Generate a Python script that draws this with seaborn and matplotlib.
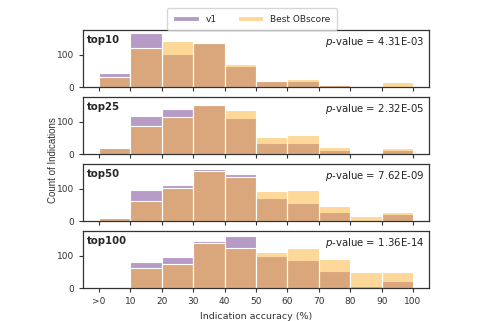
import numpy as np
import pandas as pd
import matplotlib
matplotlib.use('Agg')
from matplotlib import pyplot as plt
import seaborn as sns

# bins of indication accuracy (%)
bin_edges = [0, 10, 20, 30, 40, 50, 60, 70, 80, 90, 100]
bin_mids = [5, 15, 25, 35, 45, 55, 65, 75, 85, 95]
tick_labels = ['>0', '10', '20', '30', '40', '50', '60', '70', '80', '90', '100']

panels = ['top10', 'top25', 'top50', 'top100']
pvals = ['4.31E-03', '2.32E-05', '7.62E-09', '1.36E-14']

# counts
v1_top10 = [43, 165, 102, 134, 66, 20, 17, 9, 0, 0]
ob_top10 = [31, 121, 141, 134, 72, 20, 25, 7, 0, 14]
v1_top25 = [21, 116, 140, 152, 112, 35, 33, 12, 0, 12]
ob_top25 = [18, 86, 114, 152, 135, 54, 60, 23, 0, 20]
v1_top50 = [10, 97, 112, 161, 145, 70, 57, 27, 1, 21]
ob_top50 = [10, 61, 103, 154, 137, 93, 95, 48, 15, 29]
v1_top100 = [4, 80, 95, 145, 161, 98, 88, 52, 8, 23]
ob_top100 = [4, 61, 74, 140, 125, 112, 123, 89, 49, 49]

v1_all = [v1_top10, v1_top25, v1_top50, v1_top100]
ob_all = [ob_top10, ob_top25, ob_top50, ob_top100]

purple = '#713991'
orange = '#fdb335'

sns.set_style('white')
plt.rcParams['font.family'] = ['DejaVu Sans']

fig, axes = plt.subplots(4, 1, figsize=(4.78, 3.21), dpi=100, sharex=True, sharey=True)
fig.subplots_adjust(left=0.174, right=0.897, top=0.906, bottom=0.102, hspace=0.18)

for i, ax in enumerate(axes):
    df = pd.DataFrame({'acc': bin_mids, 'v1': v1_all[i], 'ob': ob_all[i]})
    sns.histplot(data=df, x='acc', weights='v1', bins=bin_edges, color=purple,
                 alpha=0.5, edgecolor='white', linewidth=0.8, ax=ax, label='v1')
    sns.histplot(data=df, x='acc', weights='ob', bins=bin_edges, color=orange,
                 alpha=0.5, edgecolor='white', linewidth=0.8, ax=ax, label='Best OBscore')
    ax.set_xlim(-5, 105)
    ax.set_ylim(0, 175)
    ax.set_yticks([0, 100])
    ax.set_xticks(bin_edges)
    ax.set_ylabel('')
    ax.set_xlabel('')
    ax.tick_params(axis='both', labelsize=6.5, length=3, width=0.8, direction='out',
                   bottom=True, left=True, color='#333333', labelcolor='#333333')
    for s in ax.spines.values():
        s.set_color('#333333')
        s.set_linewidth(0.9)
    ax.text(0.012, 0.92, panels[i], transform=ax.transAxes, fontsize=7.3,
            fontweight='bold', va='top', ha='left')
    ax.text(0.988, 0.92, '$p$-value = ' + pvals[i], transform=ax.transAxes,
            fontsize=7.3, va='top', ha='right', color='#222222')

axes[-1].set_xticklabels(tick_labels)
axes[-1].set_xlabel('Indication accuracy (%)', fontsize=6.8, color='#333333')
fig.text(0.11, 0.5, 'Count of Indications', rotation=90, va='center', ha='center',
         fontsize=7, family=['Liberation Sans'], color='#333333')

handles, labels = axes[0].get_legend_handles_labels()
fig.legend(handles, labels, loc='upper center', bbox_to_anchor=(0.527, 0.988), ncol=2,
           fontsize=6.5, frameon=True, handlelength=2.8, handleheight=0.6,
           columnspacing=2.3, borderpad=0.7)

fig.savefig('out.png', dpi=100)
